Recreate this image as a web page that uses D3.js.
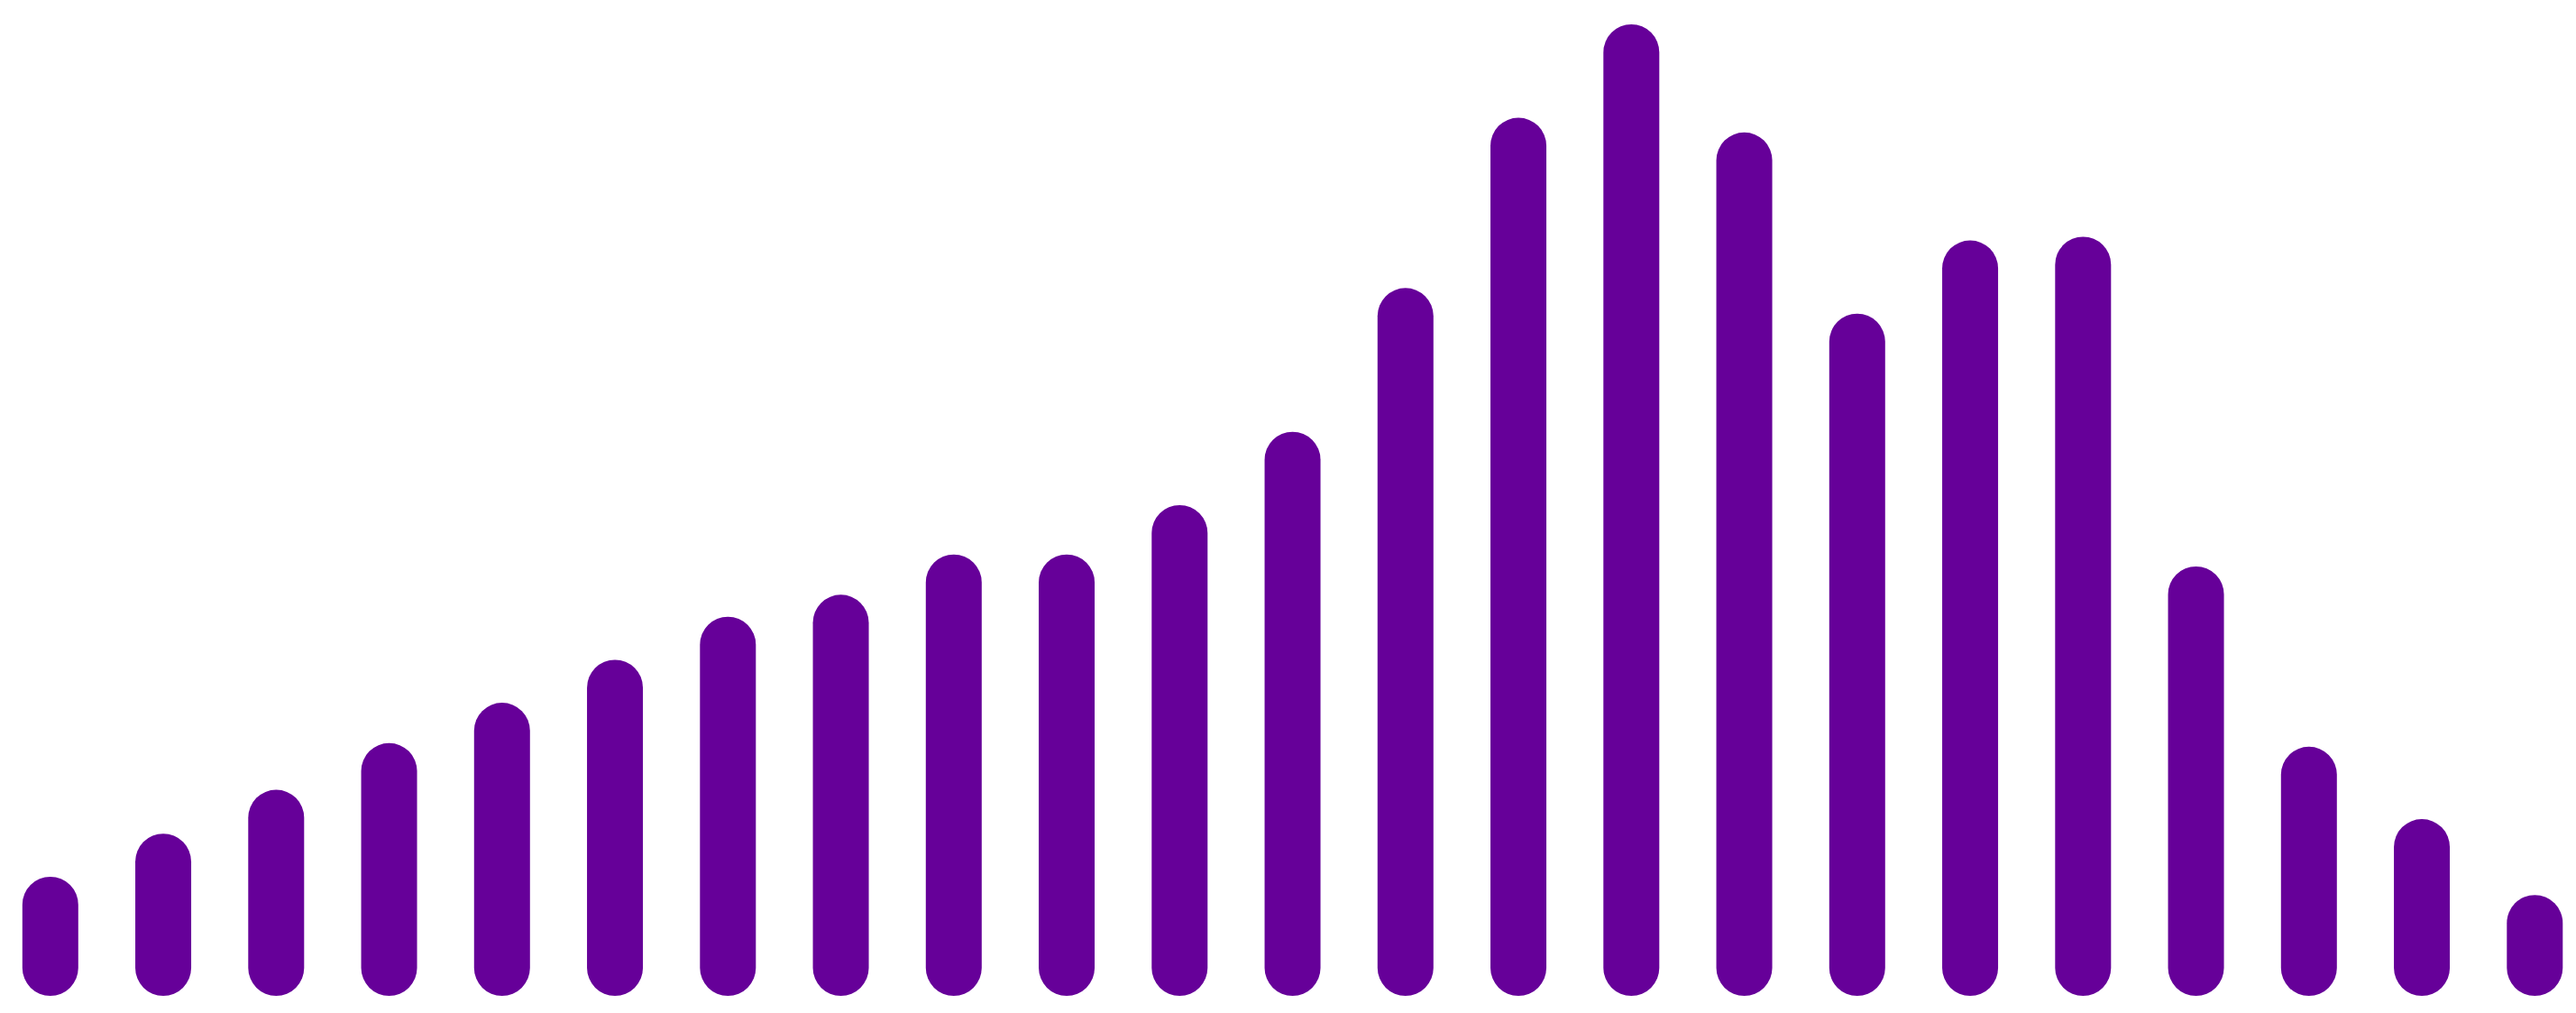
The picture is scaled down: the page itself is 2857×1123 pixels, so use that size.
<!DOCTYPE html>
<html>
<head>
<meta charset="utf-8">
<script src="https://cdn.jsdelivr.net/npm/d3@7"></script>
<style>
  html, body { margin: 0; padding: 0; background: #ffffff; }
  svg { display: block; }
</style>
</head>
<body>
<svg id="chart"></svg>
<script>
const categories = ["1","2","3","4","5","6","7","8","9","10","11","12","13","14","15","16","17","18","19","20","21","22","23"];
const values = [6.9, 11.6, 16.4, 21.5, 25.9, 30.6, 35.3, 37.7, 42.1, 42.1, 47.5, 55.5, 71.2, 89.8, 100, 88.2, 68.4, 76.4, 76.8, 40.8, 21.1, 13.2, 4.9];
const yDomain = [0, 100];

const W = 2857, H = 1123;
const barWidth = 62;
const margin = { top: 58, right: 45.7, bottom: 50, left: 55.8 };
const color = "#660099";

const svg = d3.select("#chart").attr("width", W).attr("height", H);
svg.append("rect").attr("width", W).attr("height", H).attr("fill", "#ffffff");

const x = d3.scalePoint()
  .domain(categories)
  .range([margin.left, W - margin.right]);

const y = d3.scaleLinear()
  .domain(yDomain)
  .range([H - margin.bottom, margin.top]);

const data = categories.map((c, i) => ({ c, v: values[i] }));

svg.append("g")
  .selectAll("line")
  .data(data)
  .join("line")
  .attr("x1", d => x(d.c))
  .attr("x2", d => x(d.c))
  .attr("y1", y(0))
  .attr("y2", d => y(d.v))
  .attr("stroke", color)
  .attr("stroke-width", barWidth)
  .attr("stroke-linecap", "round");
</script>
</body>
</html>
